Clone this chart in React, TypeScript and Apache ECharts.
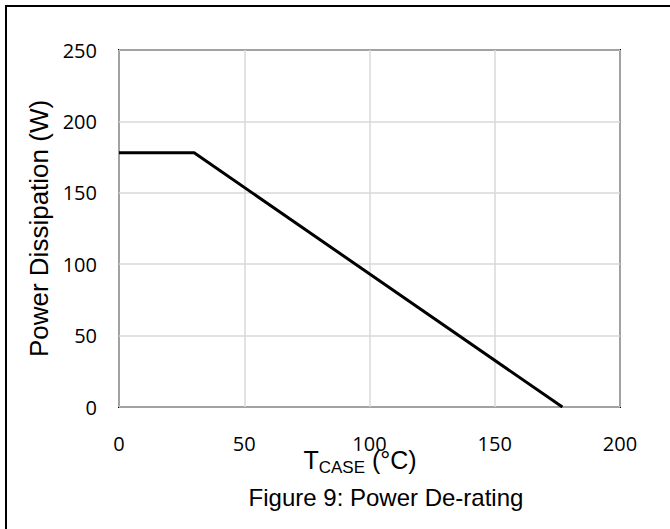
import React, { useEffect, useRef } from "react";
import * as echarts from "echarts";

const tCase: number[] = [0, 30, 177];
const powerW: number[] = [178, 178, 0];
const xTicks = { min: 0, max: 200, interval: 50 };
const yTicks = { min: 0, max: 250, interval: 50 };
const yAxisTitle = "Power Dissipation (W)";
const figureTitle = "Figure 9: Power De-rating";

export default function App() {
  const ref = useRef<HTMLDivElement>(null);
  useEffect(() => {
    if (!ref.current) return;
    const chart = echarts.init(ref.current, undefined, { renderer: "svg" });
    const labelFont = { fontFamily: "Open Sans", fontSize: 20, color: "#000" };
    chart.setOption({
      animation: false,
      backgroundColor: "#fff",
      grid: {
        left: 119,
        top: 50,
        width: 501,
        height: 357,
        show: true,
        borderColor: "#000",
        borderWidth: 2,
        backgroundColor: "transparent",
      },
      xAxis: {
        type: "value",
        min: xTicks.min,
        max: xTicks.max,
        interval: xTicks.interval,
        axisLine: { show: false },
        axisTick: { show: false },
        splitLine: { show: true, lineStyle: { color: "#d9d9d9", width: 1.5 } },
        axisLabel: { ...labelFont, margin: 26 },
      },
      yAxis: {
        type: "value",
        min: yTicks.min,
        max: yTicks.max,
        interval: yTicks.interval,
        axisLine: { show: false },
        axisTick: { show: false },
        splitLine: { show: true, lineStyle: { color: "#d9d9d9", width: 1.5 } },
        axisLabel: { ...labelFont, margin: 22 },
        name: yAxisTitle,
        nameLocation: "middle",
        nameGap: 67,
        nameTextStyle: { fontFamily: "Liberation Sans, Arial", fontSize: 26, color: "#000" },
      },
      series: [
        {
          type: "line",
          data: tCase.map((t, i) => [t, powerW[i]]),
          showSymbol: false,
          symbol: "none",
          lineStyle: { color: "#000", width: 3 },
          z: 5,
        },
      ],
      graphic: [
        {
          type: "line",
          shape: { x1: 5, y1: 6, x2: 670, y2: 6 },
          style: { stroke: "#000", lineWidth: 2 },
        },
        {
          type: "line",
          shape: { x1: 6, y1: 6, x2: 6, y2: 529 },
          style: { stroke: "#000", lineWidth: 2 },
        },
        {
          type: "text",
          x: 360,
          y: 472,
          z: 10,
          style: {
            text: "{big|T}{sub|CASE}{big| (°C)}",
            align: "center",
            verticalAlign: "bottom",
            rich: {
              big: { fontFamily: "Liberation Sans, Arial", fontSize: 25, fill: "#000", verticalAlign: "bottom" },
              sub: { fontFamily: "Liberation Sans, Arial", fontSize: 17, fill: "#000", verticalAlign: "bottom", padding: [0, 0, -4, 0] },
            },
          },
        },
        {
          type: "text",
          x: 386,
          y: 497,
          style: {
            text: figureTitle,
            align: "center",
            verticalAlign: "middle",
            fontFamily: "Liberation Sans, Arial",
            fontSize: 24,
            fill: "#000",
          },
        },
      ],
    });
    return () => chart.dispose();
  }, []);
  return (
    <div
      ref={ref}
      style={{ position: "fixed", left: 0, top: 0, width: 670, height: 529, background: "#fff" }}
    />
  );
}
